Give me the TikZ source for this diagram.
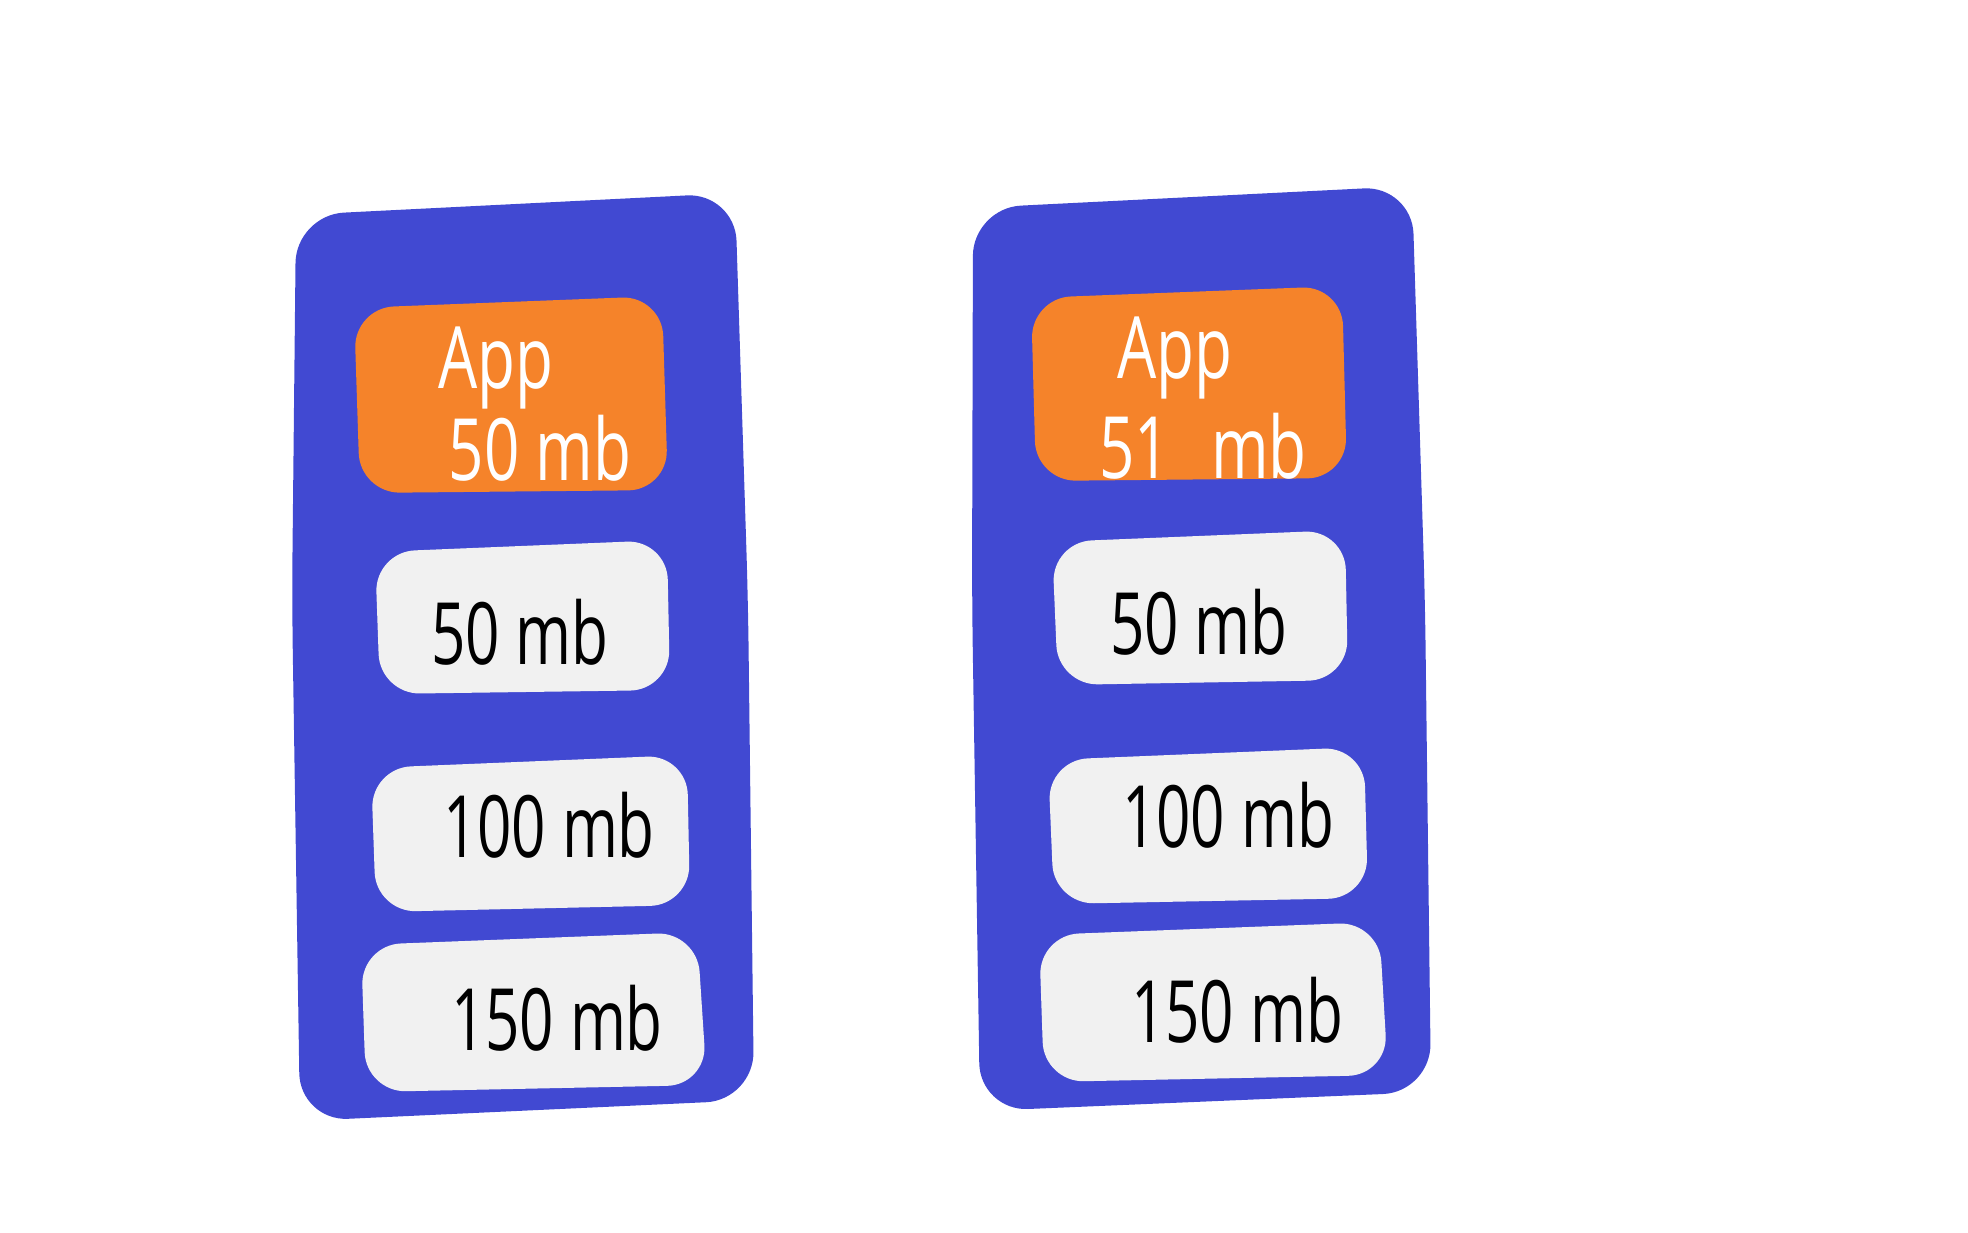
\documentclass[tikz,border=0pt]{standalone}
\usepackage{fontspec}
\setmainfont{Open Sans}
\definecolor{phoneblue}{HTML}{4149D2}
\definecolor{apporange}{HTML}{F5832A}
\definecolor{slotwhite}{HTML}{F1F1F1}
\begin{document}
\begin{tikzpicture}[x=0.5pt,y=-0.5pt,
  phone/.style={fill=phoneblue,rounded corners=24},
  appbox/.style={fill=apporange,rounded corners=20},
  slot/.style={fill=slotwhite,rounded corners=20},
  apptext/.style={text=white,font=\fontsize{43}{43}\selectfont,xscale=0.72,inner sep=0},
  slottext/.style={text=black,font=\fontsize{43}{43}\selectfont,xscale=0.7,inner sep=0}]
\useasboundingbox (0,0) rectangle (1968,1232);
% left phone
\fill[phone] (296,215) -- (735,193) -- (748,600) -- (754,1100) -- (300,1121) -- (292,600) -- cycle;
\fill[appbox] (354,308) -- (662,296) -- (668,490) -- (360,493) -- cycle;
\fill[slot] (375,552) -- (667,540) -- (670,690) -- (380,694) -- cycle;
\fill[slot] (371,768) -- (687,755) -- (690,905) -- (376,912) -- cycle;
\fill[slot] (361,945) -- (697,932) -- (707,1085) -- (366,1092) -- cycle;
\node[apptext] (lapp) at (496,368) {App};
\node[apptext] (lsize) at (540,448) {50 mb};
\node[slottext] (l1) at (520,632) {50 mb};
\node[slottext] (l2) at (549,825) {100 mb};
\node[slottext] (l3) at (557,1018) {150 mb};
% right phone
\fill[phone] (973,208) -- (1412,186) -- (1425,600) -- (1431,1092) -- (980,1111) -- (972,600) -- cycle;
\fill[appbox] (1031,298) -- (1342,286) -- (1347,478) -- (1036,481) -- cycle;
\fill[slot] (1052,542) -- (1345,530) -- (1348,680) -- (1058,685) -- cycle;
\fill[slot] (1048,760) -- (1364,747) -- (1368,898) -- (1054,904) -- cycle;
\fill[slot] (1039,935) -- (1379,922) -- (1388,1075) -- (1044,1082) -- cycle;
\node[apptext] (rapp) at (1175,358) {App};
\node[apptext] (rsize) at (1203,446) {51\hspace{0.4em} mb};
\node[slottext] (r1) at (1199,622) {50 mb};
\node[slottext] (r2) at (1228,815) {100 mb};
\node[slottext] (r3) at (1237,1010) {150 mb};
\end{tikzpicture}
\end{document}
